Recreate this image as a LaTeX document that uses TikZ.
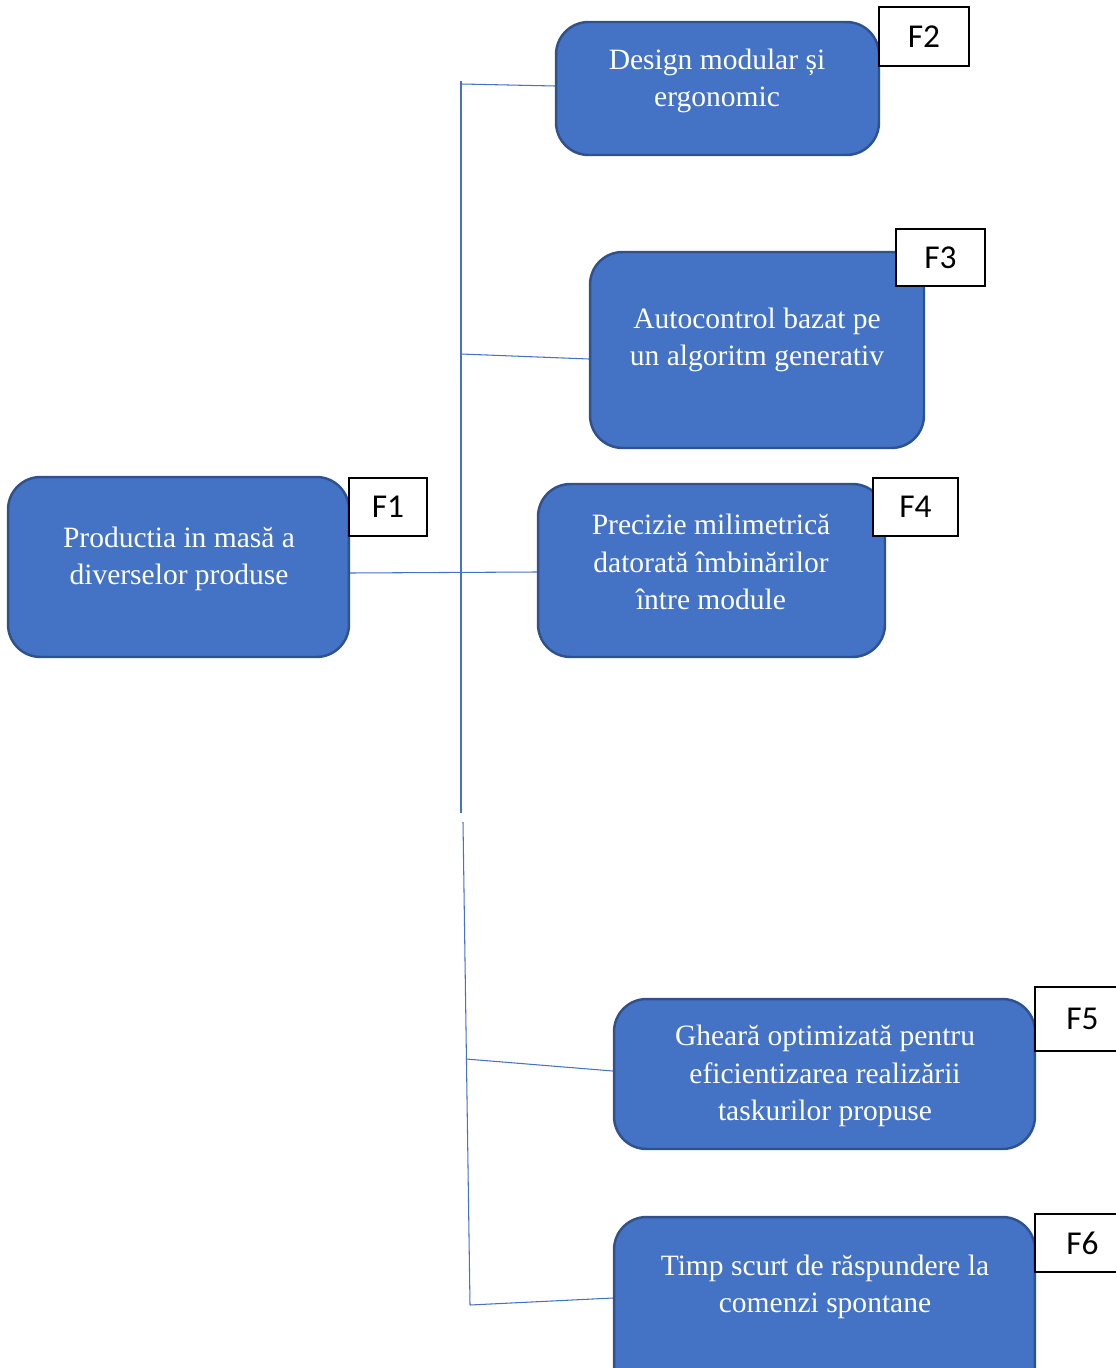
\documentclass[tikz,border=0pt]{standalone}
\usepackage{fontspec}
\setmainfont{Liberation Serif}
\newfontfamily\tagfont{Carlito}
\definecolor{boxblue}{RGB}{68,114,196}
\definecolor{boxedge}{RGB}{47,82,143}
\tikzset{
  fbox/.style={draw=boxedge,line width=1.4pt,fill=boxblue,rounded corners=0.65cm},
  ftext/.style={text=white,align=center,font=\fontsize{16.8}{21.3}\selectfont},
  ftag/.style={draw=black,line width=0.9pt,fill=white,font=\tagfont\fontsize{19}{21}\selectfont},
  link/.style={draw=boxblue,line width=0.6pt}
}
\begin{document}
\begin{tikzpicture}[x=0.02cm,y=-0.02cm]
      \useasboundingbox (0,0) rectangle (1115,1368);
      % boxes
      \node[fbox,minimum width=6.82cm,minimum height=3.6cm] (f1) at (178.5,567) {};
      \node[fbox,minimum width=6.46cm,minimum height=2.66cm] (f2) at (717.5,88.5) {};
      \node[fbox,minimum width=6.68cm,minimum height=3.92cm] (f3) at (757,350) {};
      \node[fbox,minimum width=6.94cm,minimum height=3.46cm] (f4) at (711.5,570.5) {};
      \node[fbox,minimum width=8.42cm,minimum height=3.0cm] (f5) at (824.5,1074) {};
      \node[fbox,minimum width=8.42cm,minimum height=3.6cm] (f6) at (824.5,1307) {};
      % texts
      \node[ftext] (t1) at (179,559) {Productia in masă a\\diverselor produse};
      \node[ftext] (t2) at (717,81) {Design modular și\\ergonomic};
      \node[ftext] (t3) at (757,340) {Autocontrol bazat pe\\un algoritm generativ};
      \node[ftext] (t4) at (711,562) {Precizie milimetrică\\datorată îmbinărilor\\între module};
      \node[ftext] (t5) at (825,1076) {Gheară optimizată pentru\\eficientizarea realizării\\taskurilor propuse};
      \node[ftext] (t6) at (825,1287) {Timp scurt de răspundere la\\comenzi spontane};
      % tags
      \node[ftag,minimum width=1.56cm,minimum height=1.16cm] (g1) at (388,507) {F1};
      \node[ftag,minimum width=1.8cm,minimum height=1.18cm] (g2) at (924,36.5) {F2};
      \node[ftag,minimum width=1.78cm,minimum height=1.14cm] (g3) at (940.5,257.5) {F3};
      \node[ftag,minimum width=1.7cm,minimum height=1.16cm] (g4) at (915.5,507) {F4};
      \node[ftag,minimum width=1.9cm,minimum height=1.28cm] (g5) at (1082.5,1019) {F5};
      \node[ftag,minimum width=1.9cm,minimum height=1.16cm] (g6) at (1082.5,1243) {F6};
      % trunk
      \coordinate (a1) at (461,81);
      \coordinate (a2) at (461,354);
      \coordinate (a3) at (461,813);
      \coordinate (b1) at (463,822);
      \coordinate (b2) at (466,1059);
      \coordinate (b3) at (470,1305);
      \begin{scope}[link]
        \draw (a1) -- (a3);
        \draw (b1) -- (b3);
        \draw (461,84) -- ([yshift=0.05cm]f2.west);
        \draw (a2) -- ([yshift=-0.18cm]f3.west);
        \draw ([yshift=-0.12cm]f1.east) -- ([yshift=-0.03cm]f4.west);
        \draw (b2) -- ([yshift=0.06cm]f5.west);
        \draw (b3) -- ([yshift=0.18cm]f6.west);
      \end{scope}
    \end{tikzpicture}
\end{document}
